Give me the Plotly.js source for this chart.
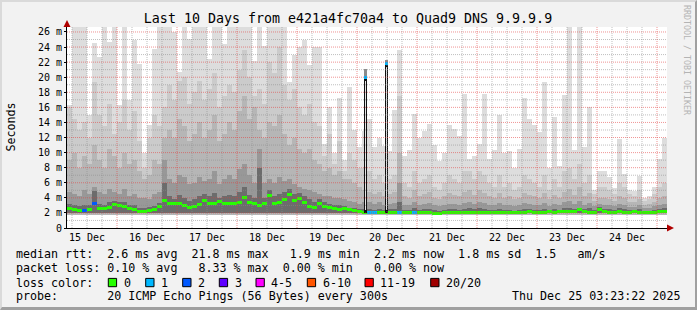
<!DOCTYPE html>
<html><head><meta charset="utf-8">
<script src="https://cdn.plot.ly/plotly-3.0.1.min.js"></script>
<style>
html,body{margin:0;padding:0;background:#f2f2f2;}
#wrap{position:relative;width:697px;height:310px;overflow:hidden;}
#chart{position:absolute;left:0;top:0;width:697px;height:310px;}
#frame{position:absolute;left:0;top:0;width:697px;height:310px;box-sizing:border-box;border-top:2px solid #dadada;border-left:2px solid #dadada;border-right:2px solid #a0a0a0;border-bottom:3px solid #a0a0a0;pointer-events:none;}
</style></head><body>
<div id="wrap"><div id="chart"></div><div id="frame"></div></div>
<script>
// ---- time grid of the consolidated steps (2 h each) ----
const rangeStart = '2025-12-15 04:00';
const rangeEnd   = '2025-12-25 04:00';
const stepHours = 2;

// ---- smoke: outer (max ping) and inner band tops, in ms ----
const maxRtt = [
16.3,26.7,26.7,26.7,15.0,24.5,22.7,26.7,24.7,26.7,16.3,26.7,17.0,25.0,21.7,10.0,13.7,23.8,26.7,26.7,
26.7,26.0,20.7,26.7,25.1,26.7,26.7,26.7,22.4,26.7,26.7,24.4,26.7,26.7,26.7,26.7,26.7,22.2,26.7,24.2,
26.7,26.7,26.7,26.7,19.3,22.9,24.0,25.0,21.6,24.0,24.0,11.1,16.0,10.0,17.3,9.0,18.7,13.0,10.7,12.9,
14.5,10.7,12.0,10.9,10.2,15.6,23.6,9.5,10.4,15.1,12.0,12.9,13.8,11.0,8.9,10.0,13.7,13.1,12.2,17.8,
9.1,9.5,11.1,17.8,9.1,10.4,15.0,10.0,10.2,8.0,10.5,17.3,14.5,13.6,12.7,19.3,8.0,14.7,8.2,17.7,
26.7,10.4,26.7,10.7,16.1,5.1,7.6,7.6,6.7,5.3,11.8,7.1,5.1,4.9,6.9,4.0,4.2,5.5,9.1,12.0];
const band2 = [
16.0,14.5,13.0,14.0,12.0,19.3,15.0,13.5,16.5,12.5,14.0,17.0,13.0,15.5,11.5,8.0,12.0,15.0,13.5,16.0,
19.0,17.0,19.5,20.0,16.5,18.0,19.5,17.0,18.5,20.5,16.0,17.5,19.0,18.0,21.0,23.6,20.0,17.5,18.5,16.5,
22.0,20.5,24.0,19.0,17.0,18.5,16.0,15.0,16.5,14.0,13.5,9.5,12.5,8.5,11.5,7.5,10.0,9.0,8.0,8.0,
7.5,6.5,7.0,6.0,6.5,7.0,17.5,6.0,5.5,7.5,6.0,6.5,7.0,5.5,5.0,6.0,7.0,6.5,6.0,7.5,
7.6,6.5,7.6,7.0,6.0,5.5,7.0,5.5,6.0,5.0,5.5,7.0,6.5,6.0,5.5,7.0,5.0,6.5,5.5,7.5,
8.0,6.5,8.5,6.0,7.0,4.5,5.5,5.5,5.0,4.5,6.0,5.5,4.5,4.2,5.0,3.6,3.8,4.5,5.5,6.0];
const band3 = [
9.0,10.0,8.0,9.5,8.5,11.0,9.0,8.0,10.5,9.5,8.0,10.0,8.5,9.0,7.5,6.5,7.0,9.0,8.5,12.0,
13.0,12.0,14.5,13.5,11.5,12.5,14.0,12.0,13.0,15.0,11.5,12.5,14.0,13.0,15.5,17.5,14.5,16.0,13.0,12.0,
14.0,13.5,15.0,12.5,11.0,12.0,10.5,10.0,10.5,9.0,8.5,7.5,8.0,7.0,7.5,6.5,6.5,6.0,5.5,5.0,
4.8,4.5,4.8,4.2,4.5,4.8,10.0,4.2,4.0,5.0,4.2,4.5,4.8,4.0,3.8,4.2,4.6,4.4,4.2,4.8,
5.0,4.4,5.0,4.6,4.2,4.0,4.6,4.0,4.2,3.8,4.0,4.6,4.4,4.2,4.0,4.6,3.8,4.4,4.0,4.8,
5.2,4.4,5.4,4.2,4.6,3.6,4.0,4.0,3.8,3.6,4.2,4.0,3.5,3.4,3.8,3.1,3.2,3.5,4.0,4.2];
const band4 = [
4.8,4.5,4.2,5.0,4.5,5.5,4.8,4.5,5.2,4.8,4.5,5.2,4.2,4.5,4.0,4.0,3.8,4.5,4.8,9.0,
6.5,6.0,7.0,6.8,5.8,6.0,6.8,6.2,6.5,7.5,5.8,6.5,7.0,6.5,7.8,8.5,7.0,6.0,10.5,6.0,
6.5,6.0,6.8,6.2,6.5,5.8,5.5,5.2,5.0,4.8,4.5,4.2,4.2,4.0,4.0,3.8,3.6,3.4,3.2,3.5,
3.4,3.2,3.4,3.1,3.2,3.3,6.0,3.1,3.0,3.5,3.1,3.2,3.3,3.0,2.9,3.1,3.2,3.2,3.1,3.3,
3.4,3.2,3.4,3.3,3.1,3.0,3.3,3.0,3.1,2.9,3.0,3.3,3.2,3.1,3.0,3.3,2.9,3.2,3.0,3.4,
3.6,3.2,3.6,3.1,3.3,2.9,3.2,3.1,3.0,2.9,3.2,3.1,2.8,2.8,3.0,2.7,2.7,2.9,3.1,3.2];
const band5 = [
3.2,3.0,2.9,3.1,3.0,4.9,3.2,3.1,3.4,3.6,3.5,3.4,3.1,3.0,2.7,2.7,2.8,2.9,3.3,6.0,
4.2,3.9,4.4,4.0,3.6,3.8,4.2,4.5,4.2,4.6,4.0,4.2,4.4,4.2,4.8,5.5,4.4,4.0,8.0,4.0,
5.0,4.2,4.5,4.8,5.2,4.5,4.6,4.2,3.8,3.5,3.8,3.4,3.2,3.1,3.0,2.9,2.7,2.6,2.5,2.5,
2.5,2.4,2.5,2.4,2.5,2.5,3.5,2.4,2.4,2.6,2.4,2.5,2.5,2.4,2.3,2.4,2.5,2.5,2.4,2.5,
2.6,2.5,2.6,2.5,2.4,2.4,2.5,2.4,2.4,2.3,2.4,2.5,2.5,2.4,2.4,2.5,2.3,2.5,2.4,2.6,
2.7,2.5,2.7,2.5,2.6,2.4,2.8,2.5,2.5,2.4,2.6,2.5,2.4,2.4,2.5,2.3,2.3,2.4,2.5,2.6];
// bottom of the smoke (fastest pings)
const lowOuter = [
1.75,1.75,1.75,1.75,1.75,1.75,1.75,1.75,1.75,1.75,1.75,1.75,1.75,1.75,1.75,1.75,1.75,1.75,1.75,1.75,
1.75,1.75,1.75,1.75,1.75,1.75,1.75,1.75,1.75,1.75,1.75,1.75,1.75,1.75,1.75,1.75,1.75,1.75,1.75,1.75,
1.75,1.75,1.75,1.75,1.75,1.75,1.75,1.75,1.75,1.75,1.75,1.75,1.75,1.75,1.75,1.75,1.75,1.75,1.75,1.75,
1.7,1.7,1.7,1.7,1.7,1.7,1.7,1.7,1.7,1.7,1.7,1.7,1.7,1.7,1.7,1.7,1.7,1.7,1.7,1.7,
1.75,1.75,1.75,1.75,1.75,1.75,1.75,1.75,1.75,1.75,1.75,1.75,1.75,1.75,1.75,1.75,1.75,1.75,1.75,1.75,
1.75,1.75,1.75,1.75,1.75,1.75,1.75,1.75,1.75,1.75,1.75,1.75,1.75,1.75,1.75,1.75,1.75,1.75,1.75,1.75];
const lowInner = [
1.95,1.95,1.95,1.95,1.95,1.95,1.95,1.95,1.95,1.95,1.95,1.95,1.95,1.95,1.95,1.95,1.95,1.95,1.95,1.95,
1.95,1.95,1.95,1.95,1.95,1.95,1.95,1.95,1.95,1.95,1.95,1.95,1.95,1.95,1.95,1.95,1.95,1.95,1.95,1.95,
1.95,1.95,1.95,1.95,1.95,1.95,1.95,1.95,1.95,1.95,1.95,1.95,1.95,1.95,1.95,1.95,1.95,1.95,1.95,1.9,
1.85,1.85,1.9,1.9,1.9,1.85,1.9,1.9,1.85,1.9,1.85,1.85,1.85,1.8,1.8,1.85,1.85,1.85,1.9,1.9,
1.9,1.9,1.9,1.9,1.9,1.9,1.9,1.9,1.9,1.9,1.9,1.9,1.95,1.9,1.9,1.9,1.95,1.9,1.95,1.95,
1.95,1.95,1.95,1.95,1.9,1.9,1.95,1.95,1.9,1.9,1.95,1.9,1.9,1.95,1.9,1.9,1.9,1.9,1.95,1.95];
// median rtt per step, ms
const medianRtt = [
2.6,2.4,2.3,2.3,2.5,3.3,2.6,2.6,2.7,3.1,3.0,2.8,2.6,2.5,2.2,2.2,2.3,2.4,2.8,3.6,
3.3,3.2,3.3,3.0,2.7,2.8,3.1,3.6,3.3,3.3,3.5,3.3,3.2,3.3,3.4,4.0,3.4,3.3,3.0,3.3,
4.3,3.2,3.4,3.8,4.4,3.6,3.9,3.4,2.9,2.7,3.2,2.9,2.7,2.6,2.5,2.6,2.4,2.3,2.2,2.1,
2.0,2.0,2.1,2.1,2.1,2.0,2.1,2.1,2.0,2.1,2.0,2.0,2.0,1.95,1.95,2.0,2.0,2.0,2.05,2.1,
2.1,2.1,2.1,2.1,2.05,2.1,2.1,2.1,2.1,2.05,2.1,2.1,2.15,2.1,2.1,2.1,2.15,2.1,2.15,2.2,
2.2,2.2,2.5,2.2,2.1,2.1,2.4,2.2,2.1,2.1,2.15,2.1,2.1,2.15,2.1,2.1,2.05,2.1,2.15,2.15];
// steps with packet loss (index into lossColors)
const lossSteps  = [3, 5, 60, 61, 66, 69];
const lossLevels = [2, 2, 1, 1, 1, 1];
// two short outlier steps on 20 Dec (1 h steps)
const spikeTimes  = ['2025-12-20 03:20', '2025-12-20 11:43'];
const spikeMedian = [20.0, 21.8];
const spikeTop    = [21.1, 22.3];
const spikeLoss   = [1, 1];

const lossLabels = ['0','1','2','3','4-5','6-10','11-19','20/20'];
const lossColors = ['#26ff00','#00b8ff','#0059ff','#5e00ff','#ff00ff','#ff5500','#ff0000','#a00000'];
const yTicks = [0,2,4,6,8,10,12,14,16,18,20,22,24,26];
const yTickText = ['0','2 m','4 m','6 m','8 m','10 m','12 m','14 m','16 m','18 m','20 m','22 m','24 m','26 m'];

const titleText = 'Last 10 Days from e421a4fc70a4 to Quad9 DNS 9.9.9.9';
const legendLine1 = 'median rtt:  2.6 ms avg  21.8 ms max   1.9 ms min  2.2 ms now  1.8 ms sd  1.5   am/s';
const legendLine2 = 'packet loss: 0.10 % avg   8.33 % max  0.00 % min   0.00 % now';
const legendLine3 = 'loss color:';
const legendLine4 = 'probe:       20 ICMP Echo Pings (56 Bytes) every 300s';
const stampText = 'Thu Dec 25 03:23:22 2025';

// ---- helpers ----
const H = 3600000;
const t0 = Date.parse(rangeStart.replace(' ','T') + ':00Z');
function iso(ms){ return new Date(ms).toISOString().slice(0,19).replace('T',' '); }
const centers = maxRtt.map((_, i) => iso(t0 + (i + 0.5) * stepHours * H));
const widths = maxRtt.map(() => stepHours * H);
const nb = s => s.replace(/ /g, '\u00a0');
// pixel -> paper (plot area: x 67..667, y 27..228)
const L = 67, R = 30, T = 27, B = 82, PW = 600, PH = 201;
const px = x => (x - L) / PW;
const py = y => (T + PH - y) / PH;

function band(top, bottom, color){
  return {type:'bar', x:centers, base:bottom, y:top.map((v,i)=>v-bottom[i]), width:widths,
    marker:{color:color, line:{width:0}}, hoverinfo:'skip', showlegend:false};
}
const medColors = medianRtt.map(() => lossColors[0]);
lossSteps.forEach((s, k) => { medColors[s] = lossColors[lossLevels[k]]; });

const traces = [
  band(maxRtt, lowOuter, '#dddddd'),
  band(band2, lowOuter, '#cbcbcb'),
  band(band3, lowOuter, '#b6b6b6'),
  band(band4, lowInner, '#989898'),
  band(band5, lowInner, '#6c6c6c'),
  {type:'bar', x:centers, base:medianRtt.map(v=>v-0.2), y:medianRtt.map(()=>0.4), width:widths,
   marker:{color:medColors, line:{width:0}}, hoverinfo:'skip', showlegend:false},
  // outlier steps
  {type:'bar', x:spikeTimes, base:spikeMedian, y:spikeTop.map((v,i)=>v-spikeMedian[i]), width:[1.3*H,1.3*H],
   marker:{color:'#8c8c8c', line:{width:0}}, hoverinfo:'skip', showlegend:false},
  {type:'bar', x:spikeTimes, base:[2.0,2.0], y:spikeMedian.map(v=>v-2.0), width:[1.3*H,1.3*H],
   marker:{color:'#111111', line:{width:0}}, hoverinfo:'skip', showlegend:false},
  {type:'bar', x:spikeTimes, base:[2.4,2.4], y:spikeMedian.map(v=>v-2.9), width:[0.5*H,0.5*H],
   marker:{color:'#e6e6e6', line:{width:0}}, hoverinfo:'skip', showlegend:false},
  {type:'bar', x:spikeTimes, base:spikeMedian.map(v=>v-0.2), y:spikeMedian.map(()=>0.4), width:[1.3*H,1.3*H],
   marker:{color:spikeLoss.map(l=>lossColors[l]), line:{width:0}}, hoverinfo:'skip', showlegend:false}
];

// ---- grid (drawn on top like rrdtool) ----
const RED = 'rgba(225,60,60,0.55)', GRAY = 'rgba(140,140,140,0.55)';
const shapes = [];
const tEnd = Date.parse(rangeEnd.replace(' ','T') + ':00Z');
const gridMinor = [], gridMajor = [];
for (let t = Date.parse('2025-12-15T06:00:00Z'); t < tEnd; t += 6*H) {
  (new Date(t).getUTCHours() === 0 ? gridMajor : gridMinor).push(iso(t));
}
const vline = (x, c) => ({type:'line', xref:'x', yref:'paper', x0:x, x1:x, y0:0, y1:1, layer:'above', line:{color:c, width:1, dash:'1px,1px'}});
const hline = (y, c) => ({type:'line', xref:'paper', yref:'y', x0:0, x1:1, y0:y, y1:y, layer:'above', line:{color:c, width:1, dash:'1px,1px'}});
for (let v = 1; v <= 25; v += 2) shapes.push(hline(v, GRAY));
gridMinor.forEach(x => shapes.push(vline(x, GRAY)));
yTicks.slice(1).forEach(v => shapes.push(hline(v, RED)));
gridMajor.forEach(x => shapes.push(vline(x, RED)));
// axis arrows
shapes.push({type:'path', xref:'paper', yref:'paper', layer:'above',
  path:`M ${px(67)} ${py(20)} L ${px(63.5)} ${py(27)} L ${px(70.5)} ${py(27)} Z`, fillcolor:'#b00000', line:{width:0}});
shapes.push({type:'path', xref:'paper', yref:'paper', layer:'above',
  path:`M ${px(674)} ${py(228)} L ${px(667)} ${py(224.5)} L ${px(667)} ${py(231.5)} Z`, fillcolor:'#b00000', line:{width:0}});

// legend boxes
const boxLeft = [108.3, 145.7, 182.7, 219.3, 256, 307.3, 365, 430.7];
const MONO = 'DejaVu Sans Mono';
const annotations = [];
const ann = (text, x, y, opts={}) => Object.assign({text:nb(text), xref:'paper', yref:'paper', x:px(x), y:py(y),
  xanchor:'left', yanchor:'middle', showarrow:false, borderpad:0, font:{family:MONO, size:11.66, color:'#000'}}, opts);
boxLeft.forEach((bx, i) => {
  shapes.push({type:'rect', xref:'paper', yref:'paper', x0:px(bx), x1:px(bx+8.3), y0:py(286.7), y1:py(278.4),
    fillcolor:lossColors[i], line:{color:'#000', width:1}, layer:'above'});
  annotations.push(ann(lossLabels[i], bx + 14.2, 282.5));
});
annotations.push(ann(legendLine1, 15, 254));
annotations.push(ann(legendLine2, 15, 268));
annotations.push(ann(legendLine3, 15, 282.5));
annotations.push(ann(legendLine4, 15, 296));
annotations.push(ann(stampText, 681, 296, {xanchor:'right'}));
annotations.push(ann('Seconds', 10, 127.5, {xanchor:'center', textangle:-90}));
annotations.push(ann('RRDTOOL / TOBI OETIKER', 687, 60, {xanchor:'center', textangle:90, font:{family:MONO, size:8.3, color:'#b4b4b4'}}));

const layout = {
  width:697, height:310,
  margin:{l:L, r:R, t:T, b:B, pad:0},
  paper_bgcolor:'#f2f2f2', plot_bgcolor:'#ffffff',
  barmode:'overlay', bargap:0,
  showlegend:false,
  title:{text:titleText, font:{family:MONO, size:13.3, color:'#000'}, xref:'container', x:0.4993, xanchor:'center',
    yref:'container', y:1-18/310, yanchor:'middle'},
  xaxis:{type:'date', range:[rangeStart, rangeEnd], tick0:'2025-12-15', dtick:86400000, tickformat:'%d %b',
    ticklabelmode:'period', showgrid:false, zeroline:false, showline:true, linecolor:'#000', linewidth:1,
    ticks:'', tickfont:{family:MONO, size:10, color:'#000'}, layer:'above traces', fixedrange:true},
  yaxis:{range:[0, 26.66], tickvals:yTicks, ticktext:yTickText, showgrid:false, zeroline:false,
    showline:true, linecolor:'#000', linewidth:1, ticks:'outside', ticklen:2, tickcolor:'#000',
    tickfont:{family:MONO, size:10, color:'#000'}, layer:'above traces', fixedrange:true},
  shapes:shapes, annotations:annotations
};
Plotly.newPlot('chart', traces, layout, {staticPlot:true, displayModeBar:false});
</script></body></html>
